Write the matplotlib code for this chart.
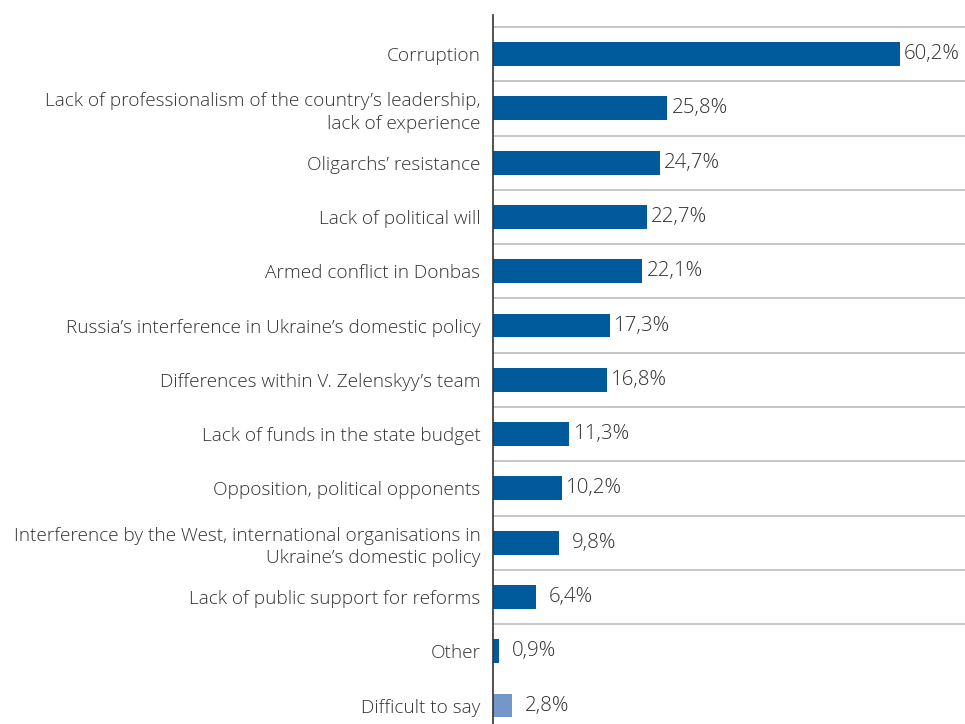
import matplotlib.pyplot as plt

plt.rcParams['font.family'] = ['Open Sans', 'DejaVu Sans']

categories = [
    "Corruption",
    "Lack of professionalism of the country\u2019s leadership,\nlack of experience",
    "Oligarchs\u2019 resistance",
    "Lack of political will",
    "Armed conflict in Donbas",
    "Russia\u2019s interference in Ukraine\u2019s domestic policy",
    "Differences within V. Zelenskyy\u2019s team",
    "Lack of funds in the state budget",
    "Opposition, political opponents",
    "Interference by the West, international organisations in\nUkraine\u2019s domestic policy",
    "Lack of public support for reforms",
    "Other",
    "Difficult to say",
]
values = [60.2, 25.8, 24.7, 22.7, 22.1, 17.3, 16.8, 11.3, 10.2, 9.8, 6.4, 0.9, 2.8]
labels = ["60,2%", "25,8%", "24,7%", "22,7%", "22,1%", "17,3%", "16,8%",
          "11,3%", "10,2%", "9,8%", "6,4%", "0,9%", "2,8%"]

dark = '#005a9c'
light = '#7497c9'
colors = [dark] * 12 + [light]

fig = plt.figure(figsize=(9.65, 7.24), dpi=100)
ax = fig.add_axes([493 / 965, 0, 1 - 493 / 965, 1 - 15 / 724])

ypos = list(range(len(categories)))
ax.barh(ypos, values, height=0.44, color=colors, zorder=3)

# separator lines between categories
for i in range(len(categories) - 1):
    ax.axhline(i - 0.5, color='#bdbdbd', linewidth=1.2, zorder=1)

for y, v, lab in zip(ypos, values, labels):
    pad = 3 if v >= 10 else 9
    ax.annotate(lab, (v, y), xytext=(pad, 0), textcoords='offset points',
                va='center', ha='left', fontsize=14.8, color='#333333',
                fontweight='light')

ax.set_xlim(0, 69.8)
ax.set_ylim(12.34, -0.72)
ax.set_yticks(ypos)
ax.set_yticklabels(categories, fontsize=13.7, color='#333333', ha='right',
                   multialignment='right', linespacing=1.3,
                   fontweight='light')
ax.tick_params(axis='y', length=0, pad=9)
ax.set_xticks([])
for s in ['top', 'right', 'bottom']:
    ax.spines[s].set_visible(False)
ax.spines['left'].set_color('#333333')
ax.spines['left'].set_linewidth(1.2)
ax.spines['left'].set_zorder(4)

fig.savefig('out.png', dpi=100)
